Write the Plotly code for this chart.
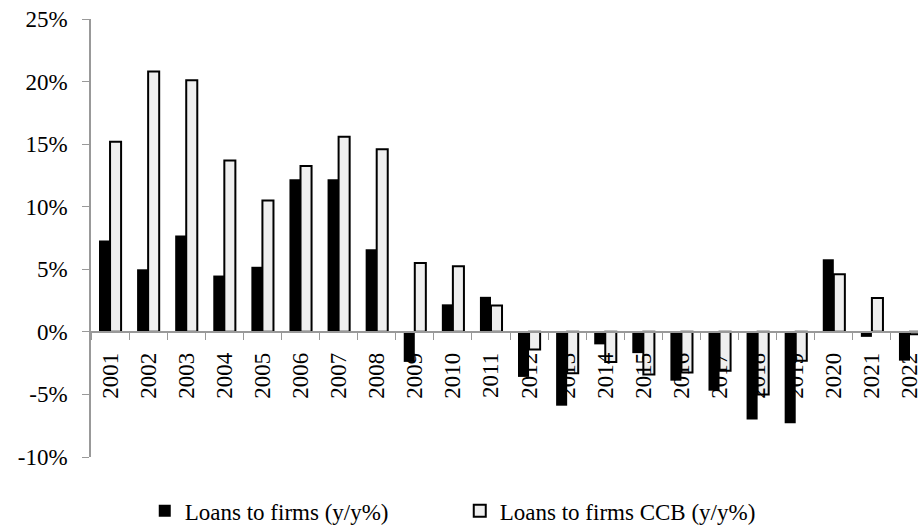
import plotly.graph_objects as go

years = [str(y) for y in range(2001, 2023)]
loans_firms = [7.3, 5.0, 7.7, 4.5, 5.2, 12.2, 12.2, 6.6, -2.4, 2.2, 2.8, -3.6,
               -5.9, -1.0, -1.7, -3.9, -4.7, -7.0, -7.3, 5.8, -0.4, -2.3]
loans_firms_ccb = [15.2, 20.8, 20.1, 13.7, 10.5, 13.25, 15.6, 14.6, 5.5, 5.25, 2.1, -1.4,
                   -3.3, -2.4, -3.4, -3.25, -3.1, -5.0, -2.3, 4.6, 2.7, -0.2]
y_ticks = [-10, -5, 0, 5, 10, 15, 20, 25]
y_ticktext = ["-10%", "-5%", "0%", "5%", "10%", "15%", "20%", "25%"]

FONT = "Liberation Serif"

fig = go.Figure()
fig.add_trace(go.Bar(
    x=years, y=loans_firms, name="Loans to firms (y/y%)",
    marker=dict(color="black", line=dict(color="black", width=0)),
))
fig.add_trace(go.Bar(
    x=years, y=loans_firms_ccb, name="Loans to firms CCB (y/y%)",
    marker=dict(color="#efefef", line=dict(color="black", width=2)),
))

ymin, ymax = -10, 25
fig.update_layout(
    width=918, height=529,
    margin=dict(l=91, r=0, t=19, b=72, autoexpand=False),
    paper_bgcolor="white", plot_bgcolor="white",
    barmode="group", bargap=0.42, bargroupgap=0,
    font=dict(family=FONT, size=23, color="black"),
    showlegend=True,
    legend=dict(orientation="h", x=0.065, xanchor="left", y=-0.123, yanchor="middle",
                font=dict(family=FONT, size=23, color="black"),
                traceorder="normal", itemwidth=30,
                entrywidth=270, entrywidthmode="pixels"),
    xaxis=dict(
        type="category", range=[-0.5, 21.21], automargin=False,
        anchor="free", position=(0 - ymin) / (ymax - ymin),
        showline=True, linecolor="#999999", linewidth=1.5,
        ticks="outside", ticklen=7, tickcolor="#999999", tickson="boundaries",
        tickangle=-90, showgrid=False, zeroline=False, ticklabelstandoff=11,
        ticklabeloverflow="allow",
        tickfont=dict(family=FONT, size=23, color="black"),
    ),
    yaxis=dict(
        range=[ymin, ymax], domain=[0, 1], automargin=False,
        tickvals=y_ticks, ticktext=y_ticktext,
        showline=True, linecolor="#999999", linewidth=1.5,
        ticks="outside", ticklen=7, tickcolor="#999999", ticklabelstandoff=10,
        ticklabeloverflow="allow",
        showgrid=False, zeroline=False,
        tickfont=dict(family=FONT, size=23, color="black"),
    ),
)

fig.write_html(
    "out.html",
    config={"displayModeBar": False},
    post_script="document.body.style.margin='0';document.body.style.overflow='hidden';",
)
